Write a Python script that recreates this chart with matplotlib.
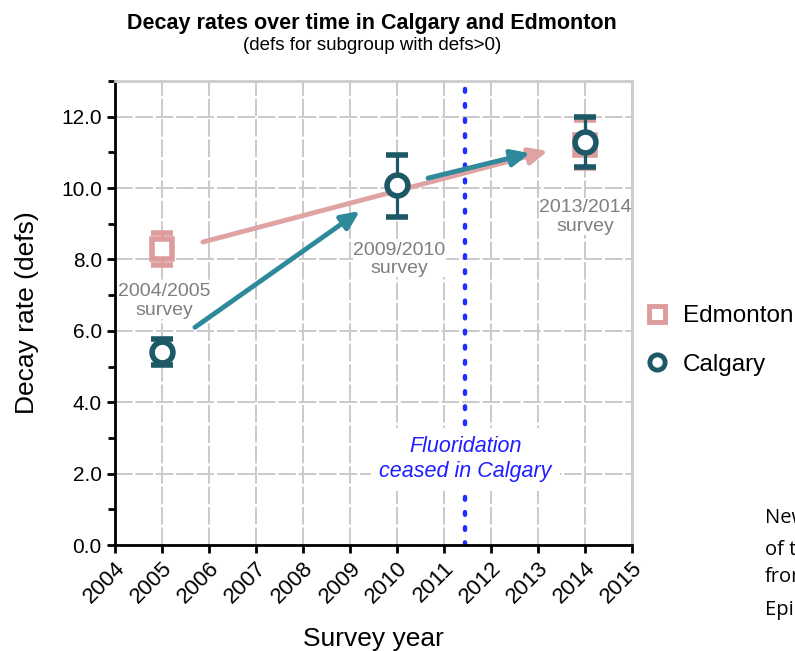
import numpy as np
import matplotlib.pyplot as plt
from matplotlib.ticker import MultipleLocator

plt.rcParams['font.family'] = ['Liberation Sans', 'DejaVu Sans']

# survey data (defs, mean with error bar ends)
edm_years = [2005, 2014]
edm_rate = [8.3, 11.2]
edm_low = [7.85, 10.55]
edm_high = [8.75, 11.9]

cal_years = [2005, 2010, 2014]
cal_rate = [5.4, 10.08, 11.3]
cal_low = [5.05, 9.2, 10.6]
cal_high = [5.78, 10.92, 12.0]

survey_labels = ['2004/2005\nsurvey', '2009/2010\nsurvey', '2013/2014\nsurvey']
survey_label_x = [2005.05, 2010.05, 2014.0]
survey_label_y = [6.85, 8.0, 9.2]

# trend arrows: (x0, y0, x1, y1)
edm_arrows = [(2005.87, 8.49, 2013.21, 11.04)]
cal_arrows = [(2005.7, 6.1, 2009.21, 9.36), (2010.66, 10.28, 2012.83, 10.98)]

cease_year = 2011.45

pink = '#DC9C9C'
pink_arrow = '#E0A3A3'
teal = '#1D5866'
teal_arrow = '#2E8A9A'
grey_txt = '#7F7F7F'

fig = plt.figure(figsize=(7.95, 6.51), dpi=100)
ax = fig.add_axes([0.1447, 0.1628, 0.6503, 0.7127])

ax.set_xlim(2004, 2015)
ax.set_ylim(0, 13)
ax.xaxis.set_major_locator(MultipleLocator(1))
ax.yaxis.set_minor_locator(MultipleLocator(1))
ax.set_yticks(np.arange(0, 13, 2))
ax.set_yticklabels(['%.1f' % v for v in np.arange(0, 13, 2)])
ax.grid(True, which='major', color='#CACACA', linestyle=(0, (9, 1.5)), linewidth=1.4, zorder=0)

for s in ['left', 'bottom']:
    ax.spines[s].set_linewidth(2)
    ax.spines[s].set_color('black')
for s in ['top', 'right']:
    ax.spines[s].set_linewidth(2)
    ax.spines[s].set_color('#CCCCCC')
ax.tick_params(axis='both', which='major', length=6, width=2, direction='out')
ax.tick_params(axis='y', labelsize=15)
ax.tick_params(axis='x', labelsize=16, pad=3)
ax.tick_params(axis='y', which='minor', length=5, width=2)
plt.setp(ax.get_xticklabels(), rotation=45, ha='right', rotation_mode='anchor')

# fluoridation line
ax.axvline(cease_year, color='#1E2EFF', linestyle=(0, (0.6, 2.8)), linewidth=3.2,
           dash_capstyle='round', zorder=2)
ax.text(cease_year, 2.4, 'Fluoridation\nceased in Calgary', color='#1E1EFF', fontsize=15.5,
        style='italic', ha='center', va='center', zorder=3, linespacing=1.25,
        bbox=dict(facecolor='white', edgecolor='none', pad=6))

for lbl, lx, ly in zip(survey_labels, survey_label_x, survey_label_y):
    ax.text(lx, ly, lbl, color=grey_txt, fontsize=14, ha='center', va='center',
            linespacing=1.15, zorder=3, bbox=dict(facecolor='white', edgecolor='none', pad=0))

# arrows
for x0, y0, x1, y1 in edm_arrows:
    ax.annotate('', xy=(x1, y1), xytext=(x0, y0),
                arrowprops=dict(arrowstyle='-|>,head_length=1.1,head_width=0.5',
                                color=pink_arrow, lw=3.5, shrinkA=0, shrinkB=0), zorder=3.5)
for x0, y0, x1, y1 in cal_arrows:
    ax.annotate('', xy=(x1, y1), xytext=(x0, y0),
                arrowprops=dict(arrowstyle='-|>,head_length=1.1,head_width=0.5',
                                color=teal_arrow, lw=3.5, shrinkA=0, shrinkB=0), zorder=3.5)

# error bars and markers
edm_err = [np.array(edm_rate) - np.array(edm_low), np.array(edm_high) - np.array(edm_rate)]
cal_err = [np.array(cal_rate) - np.array(cal_low), np.array(cal_high) - np.array(cal_rate)]
ax.errorbar(edm_years, edm_rate, yerr=edm_err, fmt='s', color=pink, ecolor=pink,
            markersize=14, markerfacecolor='white', markeredgewidth=4, elinewidth=2.3,
            capsize=8, capthick=2.5, zorder=4, label='Edmonton', clip_on=False)
ax.errorbar(cal_years, cal_rate, yerr=cal_err, fmt='o', color=teal, ecolor=teal,
            markersize=15, markerfacecolor='white', markeredgewidth=4, elinewidth=2.3,
            capsize=8, capthick=2.5, zorder=5, label='Calgary', clip_on=False)

ax.set_xlabel('Survey year', fontsize=19, labelpad=14)
ax.set_ylabel('Decay rate (defs)', fontsize=19, labelpad=16)

fig.text(0.468, 0.964, 'Decay rates over time in Calgary and Edmonton', fontsize=15.5,
         fontweight='bold', ha='center', va='center')
fig.text(0.468, 0.930, '(defs for subgroup with defs>0)', fontsize=13.5, ha='center', va='center')

# legend outside the plot
leg_handles = [
    plt.Line2D([], [], marker='s', linestyle='none', color=pink, markerfacecolor='white',
               markeredgewidth=3.5, markersize=11),
    plt.Line2D([], [], marker='o', linestyle='none', color=teal, markerfacecolor='white',
               markeredgewidth=3.5, markersize=11),
]
fig.legend(leg_handles, ['Edmonton', 'Calgary'], loc='center left',
           bbox_to_anchor=(0.783, 0.477), frameon=False, fontsize=17.5,
           handletextpad=0.1, labelspacing=1.1, borderaxespad=0)

# slide text cut off at right edge
side_lines = ['New', 'of the', 'from', 'Epi']
side_y = [0.204, 0.155, 0.114, 0.063]
for t, yy in zip(side_lines, side_y):
    fig.text(0.962, yy, t, fontsize=14.5, ha='left', va='center', family=['Open Sans', 'DejaVu Sans'])

fig.savefig('out.png', dpi=100)
